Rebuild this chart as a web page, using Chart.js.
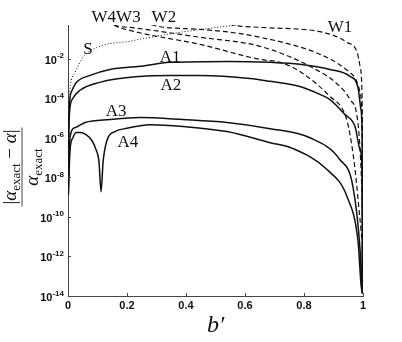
<!DOCTYPE html>
<html>
<head>
<meta charset="utf-8">
<script src="https://cdn.jsdelivr.net/npm/chart.js@4.4.0/dist/chart.umd.min.js"></script>
<style>
    html, body { margin: 0; padding: 0; background: #fff; }
    #wrap { width: 402px; height: 342px; }
</style>
</head>
<body>
<div id="wrap"><canvas id="errChart" width="402" height="342"></canvas></div>
<script>
// Values. y values are given as log10 of the relative error.
const sX   = [0.001, 0.004, 0.024, 0.051, 0.108, 0.21, 0.244, 0.38, 0.48, 0.583, 0.65];
const sExp = [-5.5, -4.0, -2.70, -1.94, -1.38, -1.12, -1.02, -0.67, -0.47, -0.265, -0.05];

const a1X   = [0.001, 0.004, 0.014, 0.029, 0.075, 0.142, 0.244, 0.346, 0.549, 0.685, 0.786, 0.888, 0.956, 0.983, 0.993, 0.997, 0.9985, 1.0];
const a1Exp = [-7.0, -4.5, -3.6, -3.2, -2.85, -2.55, -2.39, -2.19, -2.14, -2.19, -2.29, -2.55, -2.90, -3.46, -4.57, -5.94, -13.8, -9.0];

const a2X   = [0.001, 0.004, 0.014, 0.041, 0.108, 0.244, 0.346, 0.447, 0.617, 0.685, 0.786, 0.854, 0.888, 0.939, 0.973, 0.99, 0.997, 0.9985, 1.0];
const a2Exp = [-7.5, -5.0, -4.07, -3.6, -3.20, -2.90, -2.85, -2.85, -3.00, -3.15, -3.41, -3.81, -4.07, -4.83, -5.43, -6.6, -7.77, -13.8, -9.0];

const a3X   = [0.001, 0.007, 0.024, 0.058, 0.142, 0.244, 0.39, 0.539, 0.685, 0.82, 0.922, 0.966, 0.99, 0.997, 1.0];
const a3Exp = [-8.9, -5.94, -5.49, -5.23, -5.08, -4.98, -5.08, -5.23, -5.54, -6.0, -7.11, -8.48, -11.67, -13.85, -9.0];

const a4X   = [0.001, 0.007, 0.017, 0.027, 0.041, 0.061, 0.081, 0.095, 0.105, 0.112, 0.119, 0.132, 0.159, 0.193, 0.278, 0.39, 0.539, 0.685, 0.763, 0.878, 0.946, 0.983, 0.997, 1.0];
const a4Exp = [-8.9, -6.6, -5.99, -5.74, -5.74, -5.84, -6.14, -6.6, -7.21, -8.73, -7.21, -6.14, -5.69, -5.54, -5.34, -5.43, -5.69, -6.25, -6.55, -7.61, -8.98, -11.2, -13.85, -9.0];

const w1X   = [0.5, 0.549, 0.651, 0.864, 0.946, 0.98, 0.99, 0.997, 1.0];
const w1Exp = [0.1, -0.27, -0.42, -0.67, -1.18, -1.68, -2.39, -4.07, -11.3];

const w2X   = [0.24, 0.278, 0.447, 0.651, 0.878, 0.956, 0.99, 0.997, 1.0];
const w2Exp = [0.2, -0.27, -0.52, -0.92, -1.94, -2.70, -3.71, -5.59, -11.3];

const w3X   = [0.12, 0.153, 0.21, 0.447, 0.651, 0.82, 0.922, 0.956, 0.98, 0.99, 0.997, 1.0];
const w3Exp = [0.3, -0.27, -0.42, -0.92, -1.38, -2.39, -3.41, -4.07, -4.93, -6.6, -9.13, -11.3];

const w4X   = [0.12, 0.153, 0.21, 0.447, 0.651, 0.719, 0.786, 0.888, 0.939, 0.956, 0.973, 0.99, 0.997, 1.0];
const w4Exp = [0.3, -0.27, -0.57, -1.28, -2.04, -2.19, -2.65, -3.91, -4.83, -5.84, -7.61, -10.15, -11.2, -11.3];

// axis ticks
const xTicks = [0, 0.2, 0.4, 0.6, 0.8, 1];
const xTickLabels = ['0', '0.2', '0.4', '0.6', '0.8', '1'];
const yTicks = [1e-14, 1e-12, 1e-10, 1e-8, 1e-6, 1e-4, 1e-2];
const yTickExps = ['-14', '-12', '-10', '-8', '-6', '-4', '-2'];

// curve names, placed in data coordinates
const curveLabels = ['W4W3', 'W2', 'W1', 'S', 'A1', 'A2', 'A3', 'A4'];
const labelX = [0.163, 0.325, 0.922, 0.068, 0.346, 0.349, 0.163, 0.203];
const labelY = [1.23, 1.23, 0.38, 0.0295, 0.0115, 4.4e-4, 2.1e-5, 5.6e-7];

function pts(xs, exps) {
    return xs.map((x, i) => ({ x: x, y: Math.pow(10, exps[i]) }));
}

function line(data, dash, width) {
    return {
        data: data,
        borderColor: '#111',
        borderWidth: width,
        borderDash: dash,
        pointRadius: 0,
        fill: false,
        showLine: true,
        cubicInterpolationMode: 'monotone'
    };
}

const serif = '"Liberation Serif", "Times New Roman", serif';
const sans = '"Liberation Sans", Arial, sans-serif';

// draw a run of text pieces centred on cx
function drawRun(ctx, parts, cx, baseY) {
    let w = 0;
    parts.forEach(p => { ctx.font = p[1]; w += ctx.measureText(p[0]).width; });
    let x = cx - w / 2;
    parts.forEach(p => {
        ctx.font = p[1];
        ctx.fillText(p[0], x, baseY + p[2]);
        x += ctx.measureText(p[0]).width;
    });
}

const decor = {
    id: 'decor',
    afterDraw(chart) {
        const ctx = chart.ctx;
        const xs = chart.scales.x, ys = chart.scales.y, area = chart.chartArea;
        ctx.save();

        // inward tick marks
        ctx.strokeStyle = '#444';
        ctx.lineWidth = 1;
        ctx.beginPath();
        xTicks.forEach(v => {
            const p = Math.round(xs.getPixelForValue(v)) + 0.5;
            ctx.moveTo(p, area.bottom);
            ctx.lineTo(p, area.bottom - 3);
        });
        yTicks.forEach(v => {
            const p = Math.round(ys.getPixelForValue(v)) + 0.5;
            ctx.moveTo(area.left, p);
            ctx.lineTo(area.left + 3, p);
        });
        ctx.stroke();

        // y tick labels, 10 with a raised exponent
        ctx.fillStyle = '#111';
        ctx.textAlign = 'left';
        ctx.textBaseline = 'alphabetic';
        const base = 'bold 11px ' + sans, sup = 'bold 8px ' + sans;
        yTicks.forEach((v, i) => {
            const p = ys.getPixelForValue(v);
            ctx.font = sup;
            const we = ctx.measureText(yTickExps[i]).width;
            ctx.font = base;
            const wb = ctx.measureText('10').width;
            const x0 = area.left - 4 - we - wb;
            ctx.fillText('10', x0, p + 5);
            ctx.font = sup;
            ctx.fillText(yTickExps[i], x0 + wb, p - 0.5);
        });

        // curve labels
        ctx.font = '17px ' + serif;
        ctx.textAlign = 'center';
        ctx.textBaseline = 'middle';
        curveLabels.forEach((t, i) => {
            ctx.fillText(t, xs.getPixelForValue(labelX[i]), ys.getPixelForValue(labelY[i]));
        });

        // x axis title
        ctx.textBaseline = 'alphabetic';
        ctx.font = 'italic 24px ' + serif;
        ctx.fillText('b′', xs.getPixelForValue(0.5), 332);

        // y axis title: |a_exact - a| / a_exact, rotated
        ctx.translate(21.5, 167);
        ctx.rotate(-Math.PI / 2);
        ctx.textAlign = 'left';
        const big = '19px ' + serif, ital = 'italic 19px ' + serif, sub = '13px ' + serif;
        drawRun(ctx, [['|', big, 0], ['α', ital, 0], ['exact', sub, 4], [' − ', big, 0], ['α', ital, 0], ['|', big, 0]], 0, -6);
        drawRun(ctx, [['α', ital, 0], ['exact', sub, 4]], 0, 16.5);
        ctx.beginPath();
        ctx.moveTo(-39.5, 0.5);
        ctx.lineTo(39.5, 0.5);
        ctx.stroke();

        ctx.restore();
    }
};

const ctx = document.getElementById('errChart').getContext('2d');
new Chart(ctx, {
    type: 'scatter',
    data: {
        datasets: [
            line(pts(sX, sExp), [1, 2], 1),
            line(pts(a1X, a1Exp), [], 1.5),
            line(pts(a2X, a2Exp), [], 1.5),
            line(pts(a3X, a3Exp), [], 1.5),
            line(pts(a4X, a4Exp), [], 1.5),
            line(pts(w1X, w1Exp), [5, 3], 1.2),
            line(pts(w2X, w2Exp), [5, 3], 1.2),
            line(pts(w3X, w3Exp), [5, 3], 1.2),
            line(pts(w4X, w4Exp), [5, 3], 1.2)
        ]
    },
    options: {
        responsive: false,
        animation: false,
        devicePixelRatio: 1,
        layout: { padding: { left: 0, right: 39, top: 25, bottom: 0 } },
        plugins: {
            legend: { display: false },
            tooltip: { enabled: false }
        },
        scales: {
            x: {
                type: 'linear',
                min: 0,
                max: 1,
                afterBuildTicks: scale => { scale.ticks = xTicks.map(v => ({ value: v })); },
                afterFit: scale => { scale.height = 46; },
                grid: { display: true, drawOnChartArea: false, drawTicks: false },
                border: { display: true, color: '#444', width: 1 },
                ticks: {
                    autoSkip: false,
                    maxRotation: 0,
                    padding: 3,
                    color: '#111',
                    font: { family: sans, size: 11, weight: 'bold' },
                    callback: (v, i) => xTickLabels[i]
                }
            },
            y: {
                type: 'logarithmic',
                min: 1e-14,
                max: 0.5,
                afterBuildTicks: scale => { scale.ticks = yTicks.map(v => ({ value: v })); },
                afterFit: scale => { scale.width = 68; },
                grid: { display: true, drawOnChartArea: false, drawTicks: false },
                border: { display: true, color: '#444', width: 1 },
                ticks: { display: false }
            }
        }
    },
    plugins: [decor]
});
</script>
</body>
</html>
